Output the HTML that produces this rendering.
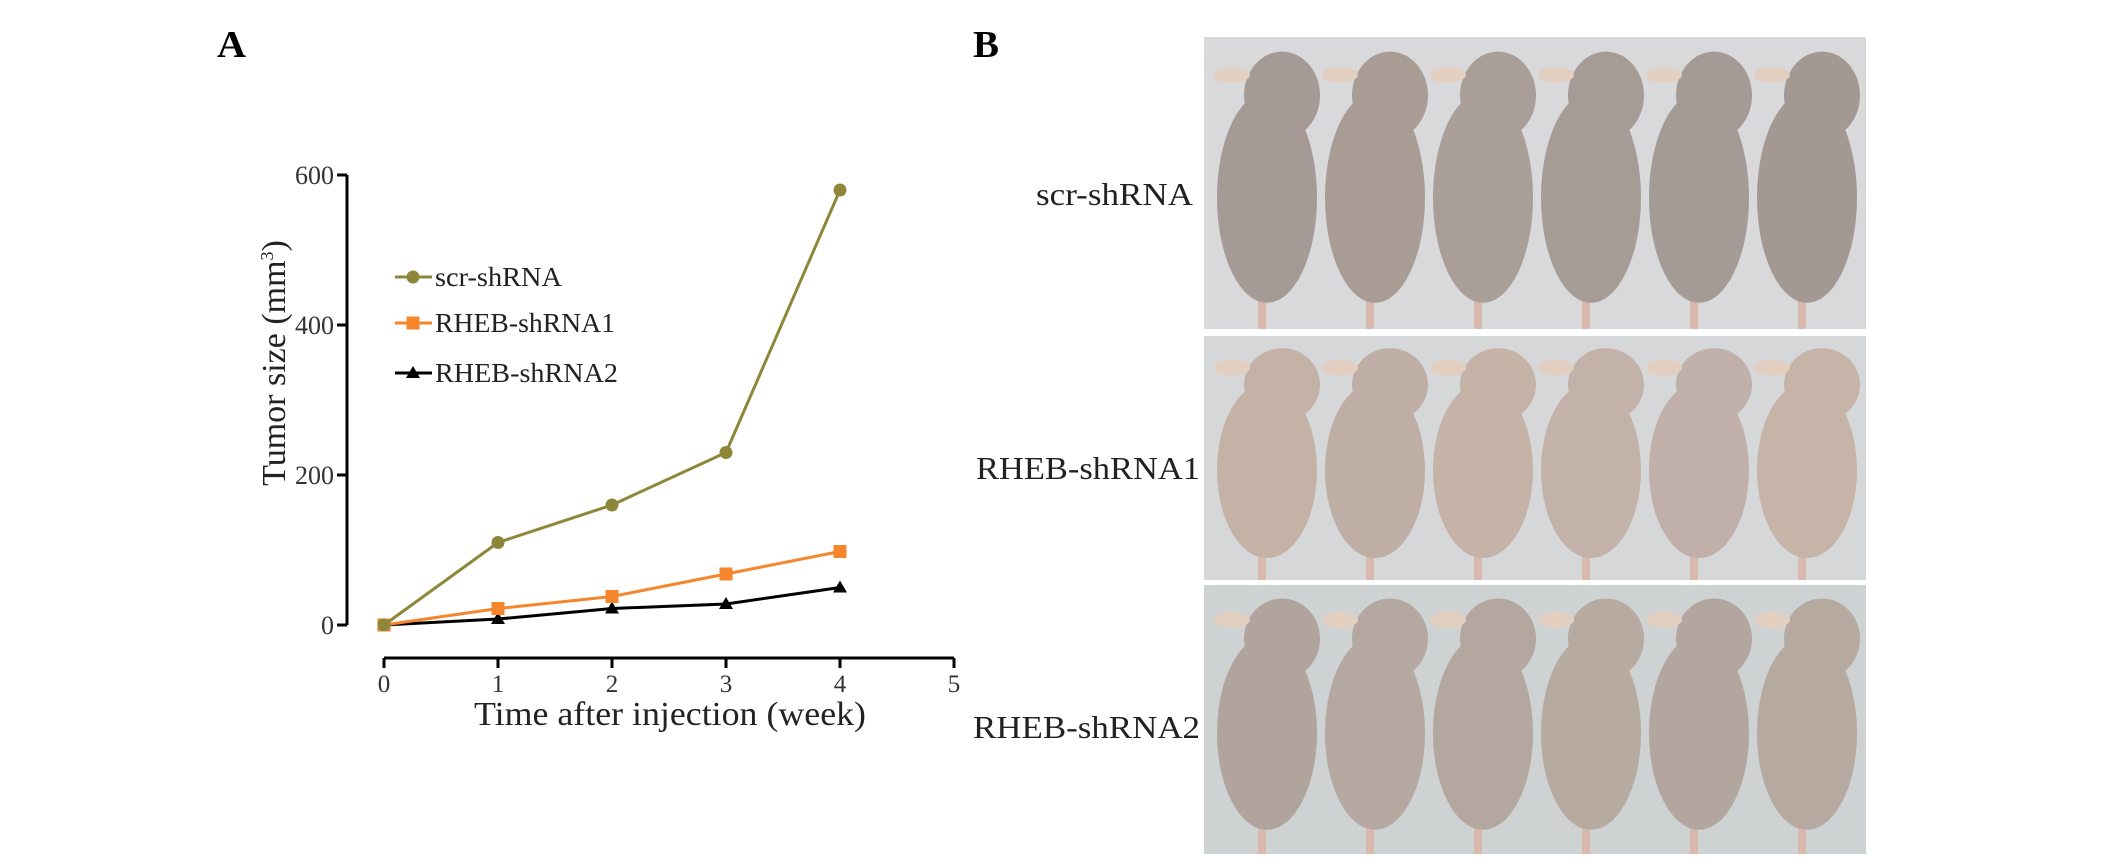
<!DOCTYPE html>
<html><head><meta charset="utf-8"><style>
html,body{margin:0;padding:0;background:#fff;}
svg{display:block;font-family:"Liberation Serif",serif;}
</style></head><body>
<svg id="fig" width="2126" height="864" viewBox="0 0 2126 864">
<text x="217" y="57" font-size="38" font-weight="bold" textLength="29" lengthAdjust="spacingAndGlyphs">A</text>
<text x="973" y="57" font-size="38" font-weight="bold" textLength="26" lengthAdjust="spacingAndGlyphs">B</text>
<g id="chart"></g>
<g id="photos"></g>
<text x="1036" y="205" font-size="32" textLength="157" lengthAdjust="spacingAndGlyphs" fill="#222">scr-shRNA</text>
<text x="976" y="479" font-size="32" textLength="224" lengthAdjust="spacingAndGlyphs" fill="#222">RHEB-shRNA1</text>
<text x="973" y="738" font-size="32" textLength="227" lengthAdjust="spacingAndGlyphs" fill="#222">RHEB-shRNA2</text>
</svg>
<script>
const weeks = [0, 1, 2, 3, 4];
const scrValues = [0, 110, 160, 230, 580];
const rheb1Values = [0, 22, 38, 68, 98];
const rheb2Values = [0, 8, 22, 28, 50];
const yTicks = [0, 200, 400, 600];
const xTicks = [0, 1, 2, 3, 4, 5];
const seriesNames = ["scr-shRNA", "RHEB-shRNA1", "RHEB-shRNA2"];

const NS = "http://www.w3.org/2000/svg";
const X0 = 384, XPX = 114, Y0 = 625, YPX = 0.75;
const xs = v => X0 + v * XPX;
const ys = v => Y0 - v * YPX;
const g = document.getElementById('chart');
function mk(tag, attrs, parent) {
  const e = document.createElementNS(NS, tag);
  for (const k in attrs) e.setAttribute(k, attrs[k]);
  (parent || g).appendChild(e);
  return e;
}
let ya = mk('line', {x1: 347, x2: 347, y1: ys(600), y2: ys(0), stroke: '#000', 'stroke-width': 3});


yTicks.forEach(t => {
  const tk = mk('line', {x1: 337, x2: 347, y1: ys(t), y2: ys(t), stroke: '#000', 'stroke-width': 3});
  
  
  const tl = mk('text', {x: 334, y: ys(t) + 9, 'font-size': 26, 'text-anchor': 'end', fill: '#333'});
  tl.textContent = t;
  
  
});
let xa = mk('line', {x1: xs(0), x2: xs(5), y1: 658, y2: 658, stroke: '#000', 'stroke-width': 3});


xTicks.forEach(t => {
  const tk = mk('line', {x1: xs(t), x2: xs(t), y1: 658, y2: 668, stroke: '#000', 'stroke-width': 3});
  
  
  const tl = mk('text', {x: xs(t), y: 692, 'font-size': 25, 'text-anchor': 'middle', fill: '#333'});
  tl.textContent = t;
  
  
});
const xt = mk('text', {x: 474, y: 725, 'font-size': 34, textLength: 392, lengthAdjust: 'spacingAndGlyphs', fill: '#222'});
xt.textContent = 'Time after injection (week)';


const ytt = mk('text', {x: 0, y: 0, 'font-size': 34, 'text-anchor': 'middle', fill: '#222', transform: 'translate(285,363) rotate(-90)'});
ytt.innerHTML = 'Tumor size (mm<tspan dy="-12" font-size="18">3</tspan><tspan dy="12">)</tspan>';



const colors = ['#8e873a', '#f5862b', '#000'];
const data = [scrValues, rheb1Values, rheb2Values];
function marker(i, cx, cy, parent) {
  let m;
  if (i === 0) m = mk('circle', {cx, cy, r: 6.5, fill: colors[0]}, parent);
  else if (i === 1) m = mk('rect', {x: cx - 6.5, y: cy - 6.5, width: 13, height: 13, fill: colors[1]}, parent);
  else m = mk('polygon', {points: `${cx},${cy - 7} ${cx + 7},${cy + 5} ${cx - 7},${cy + 5}`, fill: colors[2]}, parent);
  return m;
}
[2, 1, 0].forEach(i => {
  const vals = data[i];
  const sg = mk('g', {});
  
  
  const pts = vals.map((v, j) => xs(weeks[j]) + ',' + ys(v)).join(' ');
  const pl = mk('polyline', {points: pts, fill: 'none', stroke: colors[i], 'stroke-width': 3}, sg);
  
  
  vals.forEach((v, j) => {
    const m = marker(i, xs(weeks[j]), ys(v), sg);
    
    
  });
});
const legY = [277, 323, 373];
const legW = [127, 180, 183];
seriesNames.forEach((n, i) => {
  const lg = mk('g', {});
  
  
  mk('line', {x1: 395, x2: 432, y1: legY[i], y2: legY[i], stroke: colors[i], 'stroke-width': 3}, lg);
  marker(i, 413, legY[i], lg);
  const t = mk('text', {x: 435, y: legY[i] + 9, 'font-size': 27, textLength: legW[i], lengthAdjust: 'spacingAndGlyphs', fill: '#222'}, lg);
  t.textContent = n;
});

const ph = document.getElementById('photos');
const panels = [[37, 329], [336, 580], [585, 854]];
const bgCols = ['#d9d9db', '#d6d7d9', '#cfd2d3'];
const mouseCols = [['#a59a96', '#a89c95', '#a99f98', '#a69c96', '#a59b96', '#a49893'],
  ['#c4b2a7', '#bfaea5', '#c5b3a8', '#c2b2aa', '#c0b0a9', '#c6b4a8'],
  ['#b0a49d', '#b4a8a0', '#b3a79f', '#b7aaa1', '#b2a69f', '#b5a9a0']];
panels.forEach((p, pi) => {
  const pg = mk('g', {}, ph);
  
  
  const h = p[1] - p[0];
  mk('rect', {x: 1204, y: p[0], width: 662, height: h, fill: bgCols[pi]}, pg);
  for (let k = 0; k < 6; k++) {
    const cx = 1262 + k * 108;
    const c = mouseCols[pi][k];
    mk('rect', {x: cx - 4, y: p[0] + h * 0.6, width: 8, height: h * 0.4, fill: '#d8b9ac'}, pg);
    mk('ellipse', {cx: cx + 5, cy: p[0] + h * 0.55, rx: 50, ry: h * 0.36, fill: c}, pg);
    mk('ellipse', {cx: cx + 20, cy: p[0] + h * 0.2, rx: 38, ry: h * 0.15, fill: c}, pg);
    mk('ellipse', {cx: cx - 30, cy: p[0] + h * 0.13, rx: 18, ry: 8, fill: '#e2cfc0'}, pg);
  }
});
</script>
</body></html>
